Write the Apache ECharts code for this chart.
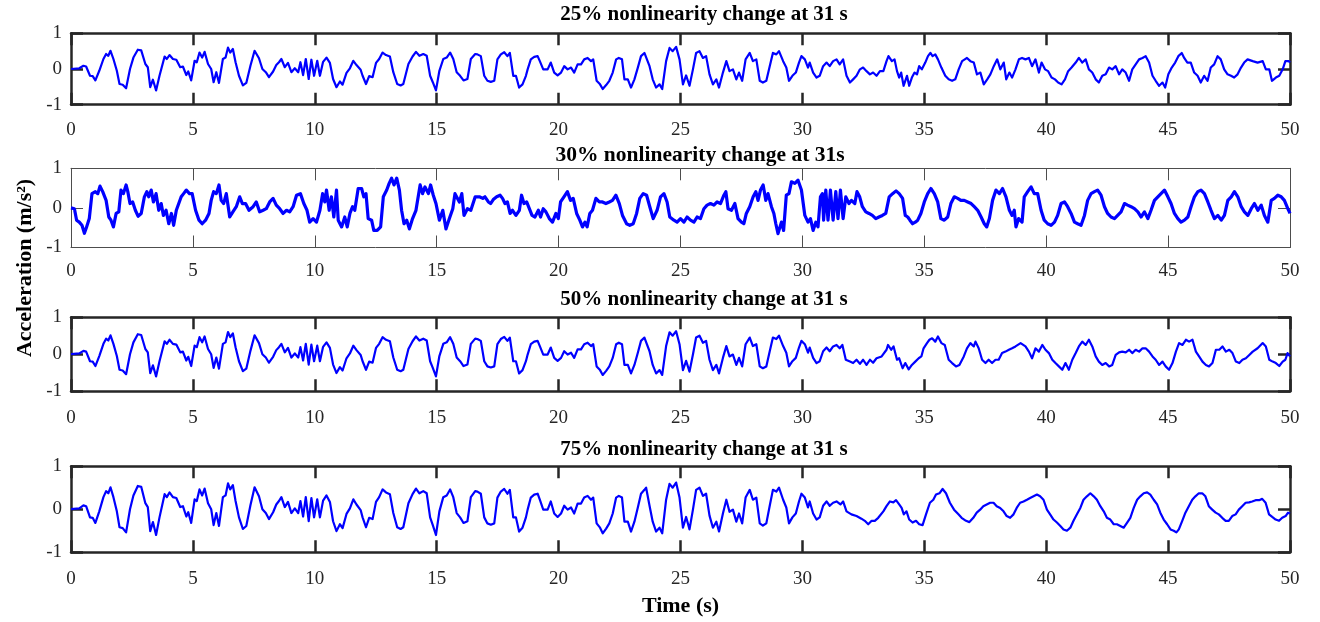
<!DOCTYPE html>
<html>
<head>
<meta charset="utf-8">
<script src="https://cdn.jsdelivr.net/npm/echarts@6/dist/echarts.min.js"></script>
<style>
  html, body { margin: 0; padding: 0; background: #ffffff; }
  #chart { width: 1320px; height: 622px; }
</style>
</head>
<body>
<div id="chart"></div>
<script>
// Axis ranges and tick spacing
const timeRange = [0, 50];
const timeStep = 5;
const accelRange = [-1, 1];
const accelStep = 1;

const panelTitles = [
  '25% nonlinearity change at 31 s',
  '30% nonlinearity change at 31s',
  '50% nonlinearity change at 31 s',
  '75% nonlinearity change at 31 s'
];
const xAxisTitle = 'Time (s)';
const yAxisTitle = 'Acceleration (m/s\u00B2)';

// Response before the change at 31 s (identical in the 25%, 50% and 75% records), [time s, accel m/s^2]
const commonRecord = [
  [0,0],[0.34,0.02],[0.51,0.09],[0.62,0.07],[0.78,-0.19],[0.89,-0.2],[1.0,-0.32],[1.16,-0.05],[1.33,0.28],[1.44,0.42],
  [1.53,0.37],[1.62,0.51],[1.74,0.28],[1.88,-0.05],[1.99,-0.42],[2.12,-0.44],[2.26,-0.54],[2.42,0],[2.56,0.32],[2.74,0.54],
  [2.88,0.52],[3.05,0.14],[3.15,0.05],[3.25,-0.51],[3.36,-0.3],[3.49,-0.6],[3.63,-0.19],[3.84,0.35],[3.93,0.28],[4.04,0.39],
  [4.18,0.28],[4.32,0.26],[4.48,0.05],[4.59,0.07],[4.73,-0.17],[4.81,-0.07],[4.93,-0.32],[5.07,0.23],[5.16,0.19],[5.27,0.46],
  [5.38,0.32],[5.48,0.48],[5.62,0.14],[5.75,0],[5.85,-0.37],[5.96,-0.09],[6.07,-0.39],[6.23,0.28],[6.34,0.32],[6.44,0.6],
  [6.53,0.46],[6.64,0.56],[6.75,0.19],[6.89,-0.19],[7.05,-0.46],[7.19,-0.39],[7.36,0.09],[7.53,0.51],[7.71,0.3],[7.85,0],
  [7.99,-0.09],[8.12,-0.23],[8.29,-0.07],[8.42,0.11],[8.53,0.19],[8.63,0.28],[8.77,0.05],[8.9,0.17],[9.04,-0.09],[9.18,0.02],
  [9.32,-0.09],[9.41,0.19],[9.52,-0.17],[9.63,0.28],[9.75,-0.28],[9.86,0.26],[9.97,-0.19],[10.1,0.23],[10.21,-0.19],[10.34,0.2],
  [10.48,0.32],[10.62,0.17],[10.75,-0.28],[10.89,-0.51],[11.03,-0.35],[11.14,-0.44],[11.3,-0.11],[11.44,0.02],[11.58,0.23],[11.71,0.11],
  [11.88,-0.02],[11.96,-0.19],[12.1,-0.42],[12.23,-0.2],[12.37,-0.23],[12.51,0.17],[12.64,0.28],[12.78,0.46],[12.92,0.39],[13.08,0.35],
  [13.22,-0.09],[13.38,-0.42],[13.52,-0.46],[13.63,-0.42],[13.84,0.14],[14.01,0.35],[14.15,0.48],[14.29,0.37],[14.45,0.42],[14.59,0.37],
  [14.73,-0.19],[14.84,-0.37],[14.97,-0.6],[15.11,-0.05],[15.27,0.28],[15.41,0.32],[15.55,0.46],[15.68,0.28],[15.82,-0.09],[15.96,-0.19],
  [16.1,-0.32],[16.26,-0.28],[16.4,0.28],[16.58,0.42],[16.67,0.41],[16.81,0.36],[16.95,-0.19],[17.08,-0.33],[17.22,-0.36],[17.36,-0.33],
  [17.49,0.27],[17.63,0.41],[17.77,0.47],[17.9,0.36],[18.0,0.45],[18.14,-0.19],[18.25,-0.19],[18.38,-0.52],[18.52,-0.43],[18.66,-0.19],
  [18.73,-0.01],[18.86,0.27],[19.0,0.34],[19.14,0.36],[19.23,0.22],[19.37,-0.01],[19.55,-0.01],[19.68,0.18],[19.82,-0.1],[19.96,-0.18],
  [20.1,-0.1],[20.23,0.08],[20.37,-0.01],[20.51,0.04],[20.64,-0.1],[20.78,0.13],[20.92,0.13],[21.05,0.27],[21.19,0.31],[21.33,0.22],
  [21.42,0.27],[21.56,-0.33],[21.7,-0.43],[21.81,-0.56],[21.95,-0.45],[22.08,-0.33],[22.22,-0.1],[22.36,0.27],[22.47,0.31],[22.6,0.27],
  [22.7,-0.29],[22.84,-0.29],[22.97,-0.52],[23.11,-0.29],[23.25,0.04],[23.38,0.36],[23.52,0.45],[23.59,0.5],[23.73,0.08],[23.86,-0.29],
  [24.0,-0.52],[24.14,-0.43],[24.25,-0.56],[24.41,0.22],[24.55,0.59],[24.68,0.5],[24.82,0.62],[24.96,0.27],[25.1,-0.43],[25.23,-0.18],
  [25.37,-0.47],[25.51,-0.01],[25.64,0.45],[25.78,0.5],[25.92,0.31],[26.05,0.36],[26.19,-0.15],[26.33,-0.43],[26.47,-0.29],[26.58,-0.52],
  [26.74,-0.1],[26.88,0.22],[27.01,-0.06],[27.15,-0.01],[27.29,-0.29],[27.4,-0.1],[27.53,-0.33],[27.67,0.27],[27.84,0.45],[27.97,0.22],
  [28.11,0.27],[28.25,-0.33],[28.38,-0.38],[28.52,-0.33],[28.66,0.08],[28.79,0.45],[28.93,0.41],[29.04,0.5],[29.21,0.22],[29.34,0.04],
  [29.45,-0.33],[29.59,-0.19],[29.73,-0.1],[29.86,0.18],[29.96,0.36],[30.1,0.27],[30.23,0.04],[30.3,0.18],[30.44,-0.1],[30.58,-0.24],
  [30.71,-0.19],[30.85,0.08],[30.99,0.18],[31.12,0.08]
];

// 25% record after the change
const tail25 = [
  [31.26,0.22],[31.4,0.27],[31.53,0.13],[31.67,0.27],[31.81,-0.19],[31.95,-0.38],[32.08,-0.29],[32.22,-0.19],[32.36,-0.01],[32.49,0.04],
  [32.63,-0.06],[32.77,-0.15],[32.9,-0.1],[33.04,-0.19],[33.18,-0.06],[33.32,-0.06],[33.45,0.22],[33.53,0.36],[33.67,0.22],[33.78,0.27],
  [33.88,-0.06],[33.97,-0.24],[34.05,-0.1],[34.15,-0.47],[34.29,-0.19],[34.38,-0.47],[34.49,-0.24],[34.6,-0.1],[34.7,-0.15],[34.79,0.08],
  [34.9,-0.01],[35.04,0.18],[35.15,0.36],[35.25,0.45],[35.34,0.36],[35.45,0.41],[35.56,0.27],[35.7,0.04],[35.86,-0.19],[36.0,-0.29],
  [36.14,-0.33],[36.27,-0.29],[36.41,-0.01],[36.55,0.22],[36.66,0.27],[36.75,0.31],[36.89,0.22],[37.03,0.18],[37.16,-0.15],[37.3,-0.1],
  [37.44,-0.43],[37.58,-0.29],[37.71,-0.15],[37.85,0.08],[37.99,0.27],[38.12,-0.01],[38.26,0.18],[38.36,-0.29],[38.49,-0.1],[38.6,-0.24],
  [38.74,-0.01],[38.88,0.27],[39.01,0.31],[39.15,0.27],[39.29,0.31],[39.42,0.08],[39.56,0.27],[39.7,-0.1],[39.81,0.18],[39.95,-0.01],
  [40.08,-0.06],[40.22,-0.24],[40.36,-0.29],[40.49,-0.38],[40.63,-0.43],[40.77,-0.29],[40.9,-0.06],[41.04,0.04],[41.21,0.18],[41.34,0.31],
  [41.48,0.18],[41.62,0.27],[41.75,-0.01],[41.89,-0.1],[42.03,-0.29],[42.16,-0.38],[42.3,-0.19],[42.44,-0.15],[42.58,0.04],[42.71,-0.01],
  [42.85,0.08],[42.99,-0.15],[43.12,-0.01],[43.26,-0.1],[43.4,-0.33],[43.53,-0.01],[43.67,0.13],[43.81,0.27],[43.95,0.31],[44.08,0.36],
  [44.22,0.18],[44.36,-0.19],[44.49,-0.33],[44.63,-0.47],[44.77,-0.38],[44.88,-0.52],[45.01,-0.15],[45.15,0.04],[45.29,0.18],[45.42,0.36],
  [45.56,0.45],[45.66,0.31],[45.79,0.18],[45.93,0.18],[46.07,-0.1],[46.21,-0.19],[46.34,-0.38],[46.48,-0.19],[46.62,-0.33],[46.75,0.04],
  [46.89,0.13],[47.03,0.36],[47.16,0.27],[47.3,-0.01],[47.44,-0.15],[47.58,-0.19],[47.71,-0.24],[47.85,-0.15],[47.99,0.04],[48.12,0.18],
  [48.26,0.27],[48.47,0.22],[48.67,0.18],[48.88,0.22],[49.01,-0.01],[49.15,-0.01],[49.26,-0.33],[49.42,-0.24],[49.56,-0.19],[49.7,-0.01],
  [49.81,0.22],[49.95,0.22],[50,0.18]
];

// 50% record after the change
const tail50 = [
  [31.26,0.21],[31.4,0.25],[31.53,0.16],[31.64,0.25],[31.78,-0.15],[31.95,-0.2],[32.08,-0.24],[32.22,-0.15],[32.36,-0.26],[32.49,-0.15],
  [32.63,-0.29],[32.77,-0.15],[32.9,-0.23],[33.04,-0.11],[33.25,-0.06],[33.45,0.12],[33.51,0.25],[33.64,0.12],[33.74,0.21],[33.88,-0.15],
  [33.97,-0.11],[34.11,-0.38],[34.22,-0.24],[34.36,-0.41],[34.49,-0.29],[34.63,-0.2],[34.77,-0.11],[34.88,-0.06],[34.97,0.16],[35.11,0.3],
  [35.21,0.39],[35.32,0.43],[35.45,0.34],[35.56,0.48],[35.7,0.3],[35.84,0.25],[36.0,-0.15],[36.14,-0.24],[36.3,-0.33],[36.44,-0.29],
  [36.62,-0.06],[36.75,0.16],[36.89,0.3],[37.03,0.21],[37.1,0.34],[37.23,0.16],[37.37,-0.15],[37.51,-0.24],[37.64,-0.15],[37.78,-0.24],
  [37.92,-0.15],[38.05,-0.15],[38.19,0.03],[38.33,0.07],[38.47,0.12],[38.6,0.16],[38.74,0.21],[38.95,0.3],[39.15,0.21],[39.29,0.07],
  [39.42,-0.11],[39.56,0.16],[39.7,0.07],[39.84,0.25],[39.97,0.12],[40.11,0.03],[40.25,-0.15],[40.38,-0.24],[40.52,-0.33],[40.66,-0.42],
  [40.79,-0.24],[40.93,-0.42],[41.07,-0.15],[41.21,0.03],[41.34,0.21],[41.48,0.34],[41.62,0.25],[41.75,0.39],[41.89,0.21],[42.03,-0.06],
  [42.16,-0.2],[42.3,-0.29],[42.44,-0.24],[42.58,-0.33],[42.71,-0.29],[42.85,-0.02],[42.99,0.05],[43.12,0.07],[43.26,0.05],[43.4,0.12],
  [43.53,0.03],[43.67,0.12],[43.81,0.07],[43.95,0.16],[44.08,0.16],[44.22,0.07],[44.36,-0.06],[44.49,-0.15],[44.63,-0.29],[44.77,-0.2],
  [44.9,-0.33],[45.04,-0.42],[45.18,-0.24],[45.32,0.07],[45.45,0.3],[45.59,0.25],[45.73,0.39],[45.86,0.34],[46.0,0.39],[46.14,0.07],
  [46.27,-0.06],[46.41,-0.2],[46.55,-0.29],[46.68,-0.33],[46.82,-0.24],[46.96,0.12],[47.1,0.12],[47.23,0.21],[47.37,0.07],[47.51,0.12],
  [47.64,0.03],[47.78,-0.2],[47.92,-0.24],[48.05,-0.15],[48.19,-0.11],[48.33,-0.02],[48.47,0.07],[48.67,0.16],[48.88,0.3],[49.01,0.21],
  [49.15,-0.15],[49.29,-0.2],[49.42,-0.24],[49.56,-0.32],[49.7,-0.2],[49.81,-0.15],[49.9,0.03],[50,-0.06]
];

// 75% record after the change
const tail75 = [
  [31.26,0.15],[31.4,0.18],[31.56,0.11],[31.67,0.18],[31.81,-0.05],[32.01,-0.12],[32.22,-0.16],[32.42,-0.22],[32.56,-0.27],[32.7,-0.35],
  [32.84,-0.27],[32.97,-0.27],[33.11,-0.2],[33.32,-0.05],[33.45,0.07],[33.59,0.18],[33.73,0.16],[33.84,0.21],[33.97,0.11],[34.07,0.03],
  [34.16,-0.12],[34.27,-0.05],[34.38,-0.24],[34.52,-0.31],[34.66,-0.27],[34.79,-0.35],[34.93,-0.37],[35.07,-0.12],[35.23,0.15],[35.37,0.22],
  [35.48,0.34],[35.62,0.37],[35.75,0.47],[35.89,0.37],[36.05,0.15],[36.22,-0.01],[36.4,-0.12],[36.53,-0.2],[36.71,-0.27],[36.85,-0.3],
  [37.01,-0.2],[37.15,-0.08],[37.29,-0.01],[37.42,0.07],[37.56,0.11],[37.7,0.15],[37.84,0.15],[37.97,0.07],[38.11,0.03],[38.25,-0.05],
  [38.38,-0.16],[38.52,-0.2],[38.66,-0.12],[38.79,0.03],[38.93,0.15],[39.07,0.18],[39.21,0.22],[39.34,0.26],[39.48,0.3],[39.62,0.34],
  [39.75,0.3],[39.89,0.22],[40.03,-0.01],[40.16,-0.12],[40.3,-0.24],[40.44,-0.31],[40.58,-0.39],[40.71,-0.47],[40.85,-0.5],[40.99,-0.43],
  [41.12,-0.27],[41.26,-0.12],[41.4,0.03],[41.53,0.22],[41.67,0.3],[41.81,0.37],[41.95,0.3],[42.08,0.22],[42.22,0.07],[42.36,-0.05],
  [42.49,-0.2],[42.63,-0.24],[42.77,-0.35],[42.9,-0.35],[43.04,-0.39],[43.18,-0.43],[43.32,-0.31],[43.45,-0.2],[43.59,0.03],[43.73,0.22],
  [43.86,0.3],[44.0,0.37],[44.14,0.39],[44.27,0.34],[44.41,0.22],[44.55,0.11],[44.68,-0.08],[44.82,-0.24],[44.96,-0.35],[45.1,-0.47],
  [45.23,-0.5],[45.34,-0.54],[45.44,-0.47],[45.58,-0.27],[45.71,-0.08],[45.85,0.07],[45.99,0.22],[46.12,0.3],[46.26,0.37],[46.4,0.37],
  [46.53,0.3],[46.67,0.07],[46.81,-0.01],[46.95,-0.08],[47.08,-0.12],[47.22,-0.2],[47.36,-0.27],[47.49,-0.27],[47.63,-0.16],[47.77,-0.12],
  [47.9,-0.01],[48.04,0.07],[48.18,0.15],[48.32,0.16],[48.45,0.18],[48.59,0.21],[48.73,0.21],[48.86,0.24],[49.0,0.15],[49.14,-0.12],
  [49.27,-0.18],[49.41,-0.24],[49.55,-0.27],[49.68,-0.2],[49.82,-0.16],[49.92,-0.08],[50,-0.1]
];

// Full 30% record
const record30 = [
  [0,0],[0.14,-0.02],[0.23,-0.31],[0.34,-0.36],[0.45,-0.44],[0.55,-0.64],[0.64,-0.48],[0.75,-0.27],[0.86,0.36],[1.0,0.41],
  [1.1,0.36],[1.19,0.55],[1.3,0.41],[1.44,0.19],[1.55,-0.23],[1.64,-0.31],[1.74,-0.48],[1.85,-0.14],[1.96,-0.1],[2.05,0.45],
  [2.15,0.36],[2.26,0.58],[2.33,0.41],[2.42,0.11],[2.53,0.15],[2.64,-0.06],[2.75,-0.21],[2.88,-0.14],[3.01,0.28],[3.11,0.41],
  [3.19,0.28],[3.29,0.45],[3.38,0.15],[3.49,0.36],[3.6,-0.06],[3.7,0.11],[3.79,-0.19],[3.9,-0.06],[4.01,-0.4],[4.12,-0.14],
  [4.21,-0.44],[4.32,-0.06],[4.42,0.11],[4.52,0.28],[4.62,0.36],[4.73,0.45],[4.86,0.36],[4.97,0.36],[5.11,-0.06],[5.25,-0.31],
  [5.38,-0.4],[5.52,-0.31],[5.66,-0.14],[5.75,0.19],[5.85,0.41],[5.96,0.36],[6.07,0.58],[6.16,0.19],[6.26,0.11],[6.37,0.36],
  [6.51,-0.23],[6.64,-0.1],[6.78,0.03],[6.92,0.28],[7.03,0.11],[7.16,0.11],[7.3,-0.06],[7.47,0.03],[7.6,0.15],[7.74,-0.1],
  [7.88,-0.06],[8.01,-0.02],[8.15,0.15],[8.29,0.24],[8.42,0.07],[8.56,-0.02],[8.7,-0.14],[8.84,-0.06],[8.97,-0.1],[9.11,0.03],
  [9.25,0.32],[9.41,0.36],[9.55,0.11],[9.68,-0.06],[9.79,-0.36],[9.93,-0.27],[10.07,-0.36],[10.21,-0.06],[10.32,0.36],[10.41,0.15],
  [10.48,0.45],[10.59,-0.06],[10.68,0.28],[10.78,-0.23],[10.89,0.45],[10.96,-0.31],[11.1,-0.48],[11.23,-0.23],[11.33,-0.48],[11.44,-0.14],
  [11.55,0.03],[11.64,-0.06],[11.78,0.49],[11.92,0.49],[12.01,0.28],[12.1,0.36],[12.19,-0.27],[12.33,-0.31],[12.42,-0.57],[12.56,-0.57],
  [12.7,-0.48],[12.81,0.28],[12.95,0.45],[13.05,0.62],[13.15,0.75],[13.25,0.58],[13.36,0.75],[13.47,0.45],[13.56,-0.06],[13.66,-0.4],
  [13.77,-0.31],[13.88,-0.53],[14.01,-0.27],[14.15,-0.06],[14.32,0.58],[14.42,0.36],[14.52,0.53],[14.66,0.36],[14.75,0.58],[14.86,0.32],
  [14.97,0.11],[15.11,-0.31],[15.25,-0.06],[15.38,-0.53],[15.52,-0.27],[15.66,-0.02],[15.75,0.36],[15.82,0.41],[15.93,0.15],[16.03,0.36],
  [16.12,-0.19],[16.26,-0.02],[16.4,-0.06],[16.58,0.28],[16.75,0.28],[16.89,0.24],[16.98,0.28],[17.12,0.15],[17.21,0.11],[17.32,0.21],
  [17.46,0.28],[17.6,0.32],[17.7,0.24],[17.8,0.11],[17.9,0.15],[18.01,-0.14],[18.11,-0.06],[18.25,-0.19],[18.39,-0.06],[18.48,0.32],
  [18.58,0.11],[18.69,0.15],[18.8,-0.02],[18.91,-0.19],[19.03,-0.23],[19.17,-0.06],[19.26,-0.23],[19.37,-0.02],[19.48,-0.1],[19.62,-0.27],
  [19.75,-0.36],[19.89,-0.14],[19.99,-0.27],[20.08,0.15],[20.22,0.28],[20.36,0.41],[20.49,0.19],[20.6,0.24],[20.74,-0.14],[20.87,-0.31],
  [20.98,-0.48],[21.08,-0.36],[21.17,-0.48],[21.28,-0.14],[21.39,-0.06],[21.53,0.24],[21.67,0.15],[21.8,0.15],[21.94,0.11],[22.08,0.15],
  [22.21,0.19],[22.35,0.32],[22.49,0.11],[22.62,-0.19],[22.79,-0.4],[22.92,-0.44],[23.06,-0.4],[23.2,-0.14],[23.33,0.24],[23.47,0.36],
  [23.61,0.32],[23.74,0.03],[23.88,-0.27],[24.04,-0.06],[24.18,0.28],[24.32,0.36],[24.45,0.15],[24.56,-0.23],[24.73,-0.31],[24.86,-0.36],
  [25.0,-0.27],[25.14,-0.36],[25.27,-0.23],[25.41,-0.31],[25.55,-0.36],[25.68,-0.23],[25.82,-0.27],[25.96,-0.02],[26.09,0.07],[26.23,0.11],
  [26.37,0.07],[26.5,0.15],[26.64,0.11],[26.78,0.32],[26.86,0.41],[26.95,-0.02],[27.09,-0.06],[27.23,0.11],[27.36,-0.27],[27.5,-0.36],
  [27.6,-0.4],[27.7,-0.14],[27.84,0.03],[27.98,0.28],[28.09,0.41],[28.18,0.19],[28.28,0.45],[28.39,0.58],[28.5,0.19],[28.59,0.36],
  [28.73,0.03],[28.83,-0.14],[28.91,-0.4],[29.0,-0.65],[29.14,-0.36],[29.23,-0.57],[29.34,0.32],[29.45,0.36],[29.55,0.66],[29.69,0.62],
  [29.82,0.7],[29.96,0.45],[30.1,-0.19],[30.23,-0.36],[30.33,-0.27],[30.44,-0.57],[30.55,-0.36],[30.64,-0.48],[30.74,0.28],[30.82,0.36],
  [30.87,-0.31],[30.96,0.45],[31.05,-0.31],[31.15,0.45],[31.26,-0.31],[31.37,0.41],[31.46,-0.27],[31.56,0.45],[31.67,-0.27],[31.78,0.28],
  [31.91,0.11],[32.01,0.19],[32.15,0.11],[32.24,0.41],[32.35,0.28],[32.46,0.03],[32.6,-0.1],[32.73,-0.14],[32.87,-0.19],[33.01,-0.27],
  [33.14,-0.23],[33.28,-0.19],[33.42,-0.14],[33.56,0.28],[33.7,0.36],[33.84,0.43],[33.97,0.36],[34.11,0.24],[34.22,-0.19],[34.32,-0.23],
  [34.41,-0.31],[34.52,-0.4],[34.63,-0.36],[34.73,-0.31],[34.86,-0.14],[35.0,0.15],[35.14,0.36],[35.27,0.49],[35.41,0.36],[35.55,0.15],
  [35.68,-0.27],[35.82,-0.31],[35.96,-0.23],[36.09,0.11],[36.23,0.28],[36.37,0.24],[36.5,0.19],[36.64,0.19],[36.78,0.15],[36.92,0.11],
  [37.05,0.03],[37.19,-0.06],[37.33,-0.23],[37.46,-0.4],[37.56,-0.48],[37.67,-0.27],[37.8,0.19],[37.94,0.45],[38.08,0.36],[38.21,0.49],
  [38.35,0.28],[38.49,-0.06],[38.6,-0.19],[38.69,-0.06],[38.76,-0.48],[38.87,-0.27],[39.01,-0.36],[39.1,0.28],[39.24,0.41],[39.38,0.53],
  [39.51,0.36],[39.65,0.36],[39.79,-0.06],[39.92,-0.31],[40.06,-0.4],[40.2,-0.44],[40.34,-0.36],[40.47,-0.19],[40.61,0.11],[40.75,0.15],
  [40.88,0.03],[41.02,-0.14],[41.16,-0.36],[41.29,-0.4],[41.43,-0.44],[41.57,-0.19],[41.7,0.19],[41.84,0.36],[41.98,0.41],[42.11,0.45],
  [42.25,0.32],[42.39,0.03],[42.52,-0.14],[42.66,-0.23],[42.8,-0.27],[42.93,-0.19],[43.07,-0.1],[43.21,0.11],[43.34,0.07],[43.48,0.03],
  [43.62,-0.02],[43.76,-0.1],[43.89,-0.23],[44.03,-0.1],[44.17,-0.27],[44.3,-0.06],[44.44,0.19],[44.58,0.28],[44.71,0.36],[44.85,0.45],
  [44.99,0.28],[45.12,0.11],[45.26,-0.14],[45.4,-0.27],[45.53,-0.36],[45.67,-0.31],[45.81,-0.23],[45.94,0.03],[46.08,0.28],[46.22,0.41],
  [46.35,0.45],[46.49,0.36],[46.63,0.15],[46.76,-0.06],[46.9,-0.27],[47.04,-0.19],[47.18,-0.31],[47.31,-0.19],[47.45,0.19],[47.59,0.28],
  [47.72,0.41],[47.86,0.28],[48.0,0.03],[48.13,-0.1],[48.27,-0.19],[48.41,-0.02],[48.54,0.11],[48.68,-0.06],[48.82,0.07],[48.95,-0.19],
  [49.09,-0.36],[49.23,0.19],[49.36,0.24],[49.5,0.32],[49.64,0.28],[49.77,0.19],[49.91,-0.02],[50,-0.14]
];

const records = [
  commonRecord.concat(tail25),
  record30,
  commonRecord.concat(tail50),
  commonRecord.concat(tail75)
];

// ---- layout & styling ----
const SERIF = '"Liberation Serif", "Times New Roman", Times, serif';
const INK = '#262626';
const PLOT_LEFT = 71;
const PLOT_RIGHT = 30;
const plotCenterX = PLOT_LEFT + (1320 - PLOT_LEFT - PLOT_RIGHT) / 2;

const panels = [
  { top: 33.3,  height: 71.4, frame: 2.5, frameColor: INK,       line: 2.2, titleX: 704, titleY: 15,  titleSize: 21,   labelMargin: 16 },
  { top: 168.3, height: 79.2, frame: 1,   frameColor: '#4d4d4d', line: 3.2, titleX: 700, titleY: 155, titleSize: 21.5, labelMargin: 14 },
  { top: 317.2, height: 74,   frame: 2.5, frameColor: INK,       line: 2.2, titleX: 704, titleY: 300, titleSize: 21,   labelMargin: 17 },
  { top: 466.2, height: 86,   frame: 2.5, frameColor: INK,       line: 2.2, titleX: 704, titleY: 450, titleSize: 21,   labelMargin: 17 }
];

const grids = [], xAxes = [], yAxes = [], series = [], graphics = [];

panels.forEach((p, i) => {
  grids.push({ left: PLOT_LEFT, right: PLOT_RIGHT, top: p.top, height: p.height, containLabel: false });

  const lineStyle = { color: p.frameColor, width: p.frame };
  const tick = { show: true, inside: true, length: 12, lineStyle: lineStyle };
  const xCommon = {
    type: 'value', gridIndex: i, min: timeRange[0], max: timeRange[1], interval: timeStep,
    axisLine: { show: true, onZero: false, lineStyle: lineStyle },
    axisTick: tick, splitLine: { show: false }
  };
  xAxes.push(Object.assign({}, xCommon, {
    position: 'bottom',
    axisLabel: { show: true, margin: p.labelMargin, fontFamily: SERIF, fontSize: 19, color: INK }
  }));
  xAxes.push(Object.assign({}, xCommon, { position: 'top', axisLabel: { show: false } }));

  const yCommon = {
    type: 'value', gridIndex: i, min: accelRange[0], max: accelRange[1], interval: accelStep,
    axisLine: { show: true, onZero: false, lineStyle: lineStyle },
    axisTick: tick, splitLine: { show: false }
  };
  yAxes.push(Object.assign({}, yCommon, {
    position: 'left',
    axisLabel: { show: true, margin: 9, fontFamily: SERIF, fontSize: 19, color: INK }
  }));
  yAxes.push(Object.assign({}, yCommon, { position: 'right', axisLabel: { show: false } }));

  series.push({
    type: 'line', xAxisIndex: 2 * i, yAxisIndex: 2 * i,
    data: records[i], showSymbol: false, symbol: 'none',
    lineStyle: { color: '#0000ff', width: p.line, join: 'round' },
    animation: false, silent: true, z: 1
  });

  graphics.push({
    type: 'text', x: p.titleX, y: p.titleY,
    style: {
      text: panelTitles[i], fill: '#000', fontFamily: SERIF, fontSize: p.titleSize, fontWeight: 'bold',
      textAlign: 'center', textVerticalAlign: 'middle', align: 'center', verticalAlign: 'middle'
    }
  });
});

graphics.push({
  type: 'text', x: plotCenterX, y: 606,
  style: {
    text: xAxisTitle, fill: '#000', fontFamily: SERIF, fontSize: 22, fontWeight: 'bold',
    textAlign: 'center', textVerticalAlign: 'middle', align: 'center', verticalAlign: 'middle'
  }
});
graphics.push({
  type: 'text', x: 25, y: 268, rotation: Math.PI / 2,
  style: {
    text: yAxisTitle, fill: '#000', fontFamily: SERIF, fontSize: 22, fontWeight: 'bold',
    textAlign: 'center', textVerticalAlign: 'middle', align: 'center', verticalAlign: 'middle'
  }
});

const chart = echarts.init(document.getElementById('chart'), null, { renderer: 'canvas' });
chart.setOption({
  backgroundColor: '#ffffff',
  animation: false,
  grid: grids,
  xAxis: xAxes,
  yAxis: yAxes,
  series: series,
  graphic: graphics
});
</script>
</body>
</html>
